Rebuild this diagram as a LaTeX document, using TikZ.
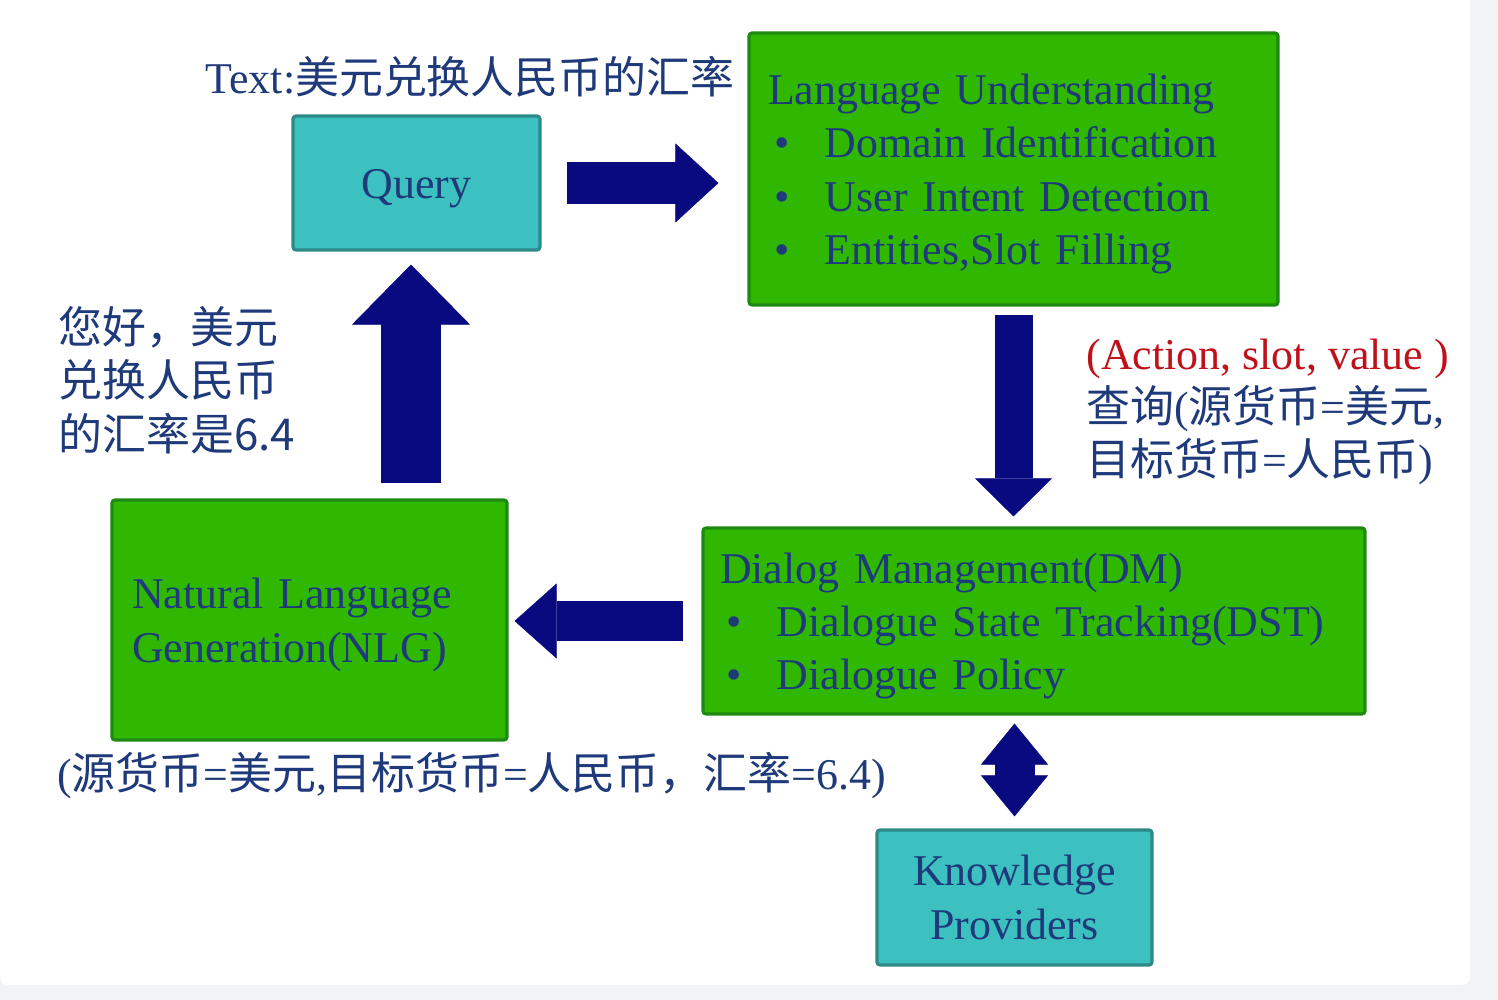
\documentclass[tikz,border=0pt]{standalone}
\usepackage{fontspec}
\setmainfont{Liberation Serif}
\newfontfamily\cjkfont{Noto Sans CJK SC}
\newcommand{\zhtext}[1]{{\cjkfont #1}}
\newcommand{\itembullet}{\makebox[5.7mm][l]{\hspace{0.6mm}\textbullet}}
\newcommand{\headstrut}{\rule{0pt}{11.5pt}}
\usetikzlibrary{arrows.meta}
\definecolor{cardgray}{HTML}{F2F3F5}
\definecolor{tealfill}{HTML}{3CC0C0}
\definecolor{tealline}{HTML}{2E8A87}
\definecolor{greenfill}{HTML}{30B800}
\definecolor{greenline}{HTML}{1F8A12}
\definecolor{navyarrow}{HTML}{0A0A80}
\definecolor{inktext}{HTML}{1F3A7A}
\definecolor{inkred}{HTML}{C0101A}

\begin{document}
\begin{tikzpicture}[font=\fontsize{12.5}{15.2}\selectfont, text=inktext, tealbox/.style={draw=tealline, fill=tealfill, line width=0.9pt, rounded corners=0.3mm, align=center, inner sep=0pt}, greenbox/.style={draw=greenline, fill=greenfill, line width=0.9pt, rounded corners=0.3mm, align=left}, fat/.style n args={3}{draw=navyarrow, line width=#1, -{Triangle[width=#2, length=#3, line width=0.1pt]}}, twoway/.style n args={3}{draw=navyarrow, line width=#1, {Triangle[width=#2, length=#3, line width=0.1pt]}-{Triangle[width=#2, length=#3, line width=0.1pt]}}]
\useasboundingbox (0,0) rectangle (14.98,-10);
\fill[cardgray] (0,0) rectangle (14.98,-10);
\fill[white, rounded corners=0.8mm] (0,0.2) rectangle (14.70,-9.85);
% boxes
\node[tealbox, minimum width=2.47cm, minimum height=1.34cm] (query) at (4.165,-1.83) {\headstrut Query};
\node[greenbox, minimum width=5.29cm, minimum height=2.72cm, text width=4.91cm, inner xsep=1.9mm] (lu) at (10.135,-1.69) {\headstrut Language Understanding\\\itembullet Domain Identification\\\itembullet User Intent Detection\\\itembullet Entities,Slot Filling};
\node[greenbox, minimum width=6.62cm, minimum height=1.86cm, text width=6.28cm, inner xsep=1.7mm] (dm) at (10.34,-6.21) {\headstrut Dialog Management(DM)\\\itembullet Dialogue State Tracking(DST)\\\itembullet Dialogue Policy};
\node[greenbox, minimum width=3.95cm, minimum height=2.40cm, text width=3.55cm, inner xsep=2mm] (nlg) at (3.095,-6.20) {\headstrut Natural Language\\Generation(NLG)};
\node[tealbox, minimum width=2.75cm, minimum height=1.35cm] (kp) at (10.145,-8.975) {Knowledge\\Providers};
% texts
\node[anchor=base] (asked) at (4.70,-0.94) {Text:\zhtext{美元兑换人民币的汇率}};
\node[anchor=west, align=left] (reply) at (0.46,-3.80) {\zhtext{您好，美元}\\\zhtext{兑换人民币}\\\zhtext{的汇率是6.4}};
\node[anchor=west, align=left] (slots) at (10.74,-4.12) {\textcolor{inkred}{(Action, slot, value )}\\\zhtext{查询}(\zhtext{源货币}=\zhtext{美元},\\\zhtext{目标货币}=\zhtext{人民币})};
\node (result) at (4.715,-7.76) {(\zhtext{源货币}=\zhtext{美元},\zhtext{目标货币}=\zhtext{人民币，汇率}=6.4)};
% arrows
\draw[fat={4.2mm}{7.9mm}{4.3mm}, shorten <=2.5mm, shorten >=2.9mm] (query.east) -- (query.east -| lu.west);
\draw[fat={3.8mm}{7.7mm}{3.8mm}, shorten <=0.8mm, shorten >=1mm] (lu.south) -- (lu.south |- dm.north);
\draw[fat={4mm}{7.5mm}{4.2mm}, shorten <=1.8mm, shorten >=0.6mm] (dm.west) -- (dm.west -| nlg.east);
\draw[fat={6mm}{11.8mm}{6mm}, shorten <=1.5mm, shorten >=1.3mm] ([xshift=-0.55mm]nlg.north -| query.south) -- ([xshift=-0.55mm]query.south);
\draw[twoway={4mm}{6.7mm}{4.1mm}, shorten <=0.8mm, shorten >=1.2mm] (dm.south -| kp.north) -- (kp.north);
\end{tikzpicture}
\end{document}
